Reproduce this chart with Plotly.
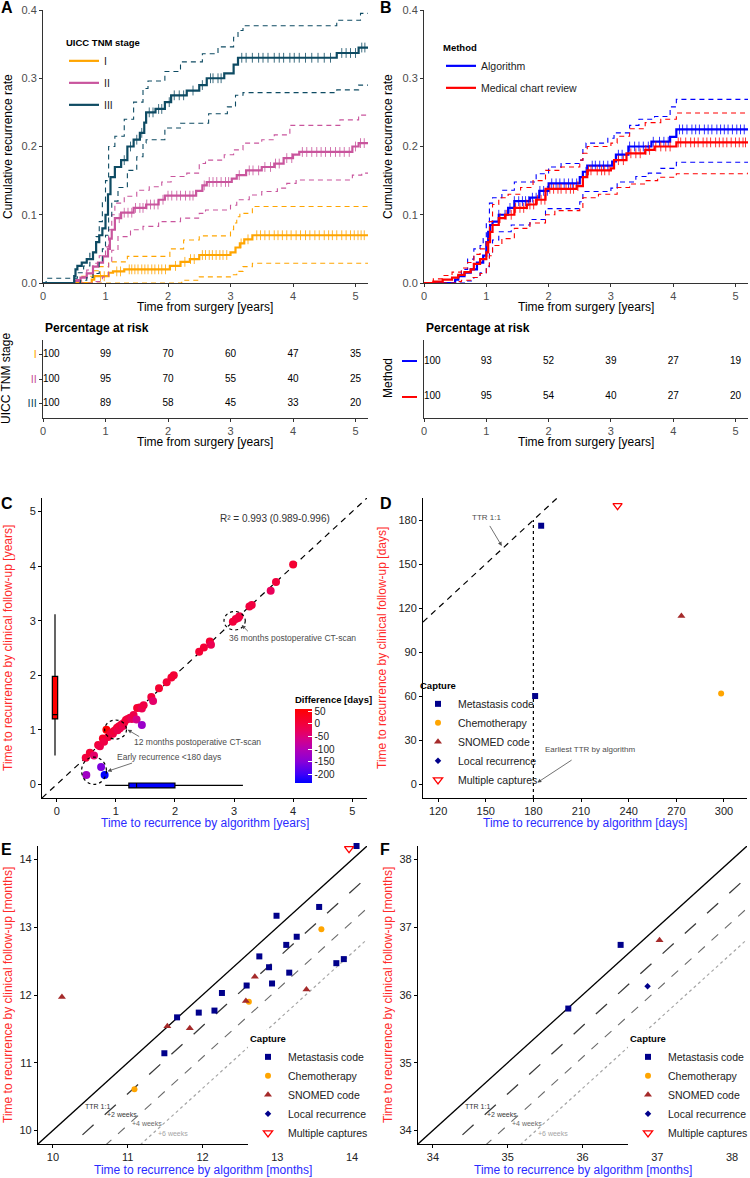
import numpy as np
import plotly.graph_objects as go

W, H = 750, 1178
FONT = "Liberation Sans, Arial, Helvetica, sans-serif"

# ======================= DATA =======================
# ---- Panel A: cumulative recurrence by UICC TNM stage (years -> rate) ----
stage_labels = ["I", "II", "III"]
tI = [0, 0.78, 0.82, 1.05, 1.12, 1.3, 2.03, 2.2, 2.35, 2.5, 3.0, 3.08, 3.15, 3.22, 3.35, 5.2]
rI = [0, 0.005, 0.01, 0.015, 0.017, 0.02, 0.025, 0.031, 0.035, 0.041, 0.045, 0.052, 0.058, 0.064, 0.07, 0.07]
tI_up = [0, 0.5, 0.62, 0.8, 0.9, 1.05, 1.35, 2.03, 2.25, 2.5, 3.0, 3.05, 3.1, 3.15, 3.35, 5.2]
rI_up = [0, 0.003, 0.01, 0.018, 0.024, 0.031, 0.039, 0.05, 0.063, 0.069, 0.078, 0.088, 0.097, 0.102, 0.112, 0.112]
tI_lo = [0, 2.22, 2.5, 3.0, 3.1, 3.2, 3.35, 5.2]
rI_lo = [0, 0.004, 0.009, 0.012, 0.017, 0.024, 0.029, 0.029]

tII = [0, 0.5, 0.6, 0.7, 0.8, 0.88, 0.96, 1.04, 1.07, 1.1, 1.15, 1.25, 1.45, 1.65, 1.85, 1.95, 2.45, 2.55,
       2.62, 3.02, 3.1, 3.25, 3.5, 3.7, 3.85, 4.0, 4.1, 4.95, 5.05, 5.2]
rII = [0, 0.003, 0.008, 0.014, 0.024, 0.03, 0.039, 0.05, 0.065, 0.078, 0.095, 0.103, 0.11, 0.115, 0.122,
       0.128, 0.135, 0.143, 0.148, 0.153, 0.158, 0.165, 0.17, 0.175, 0.183, 0.188, 0.192, 0.2, 0.205, 0.205]
tII_up = [0, 0.5, 0.6, 0.7, 0.8, 0.9, 1.0, 1.05, 1.1, 1.15, 1.3, 1.5, 1.7, 1.9, 2.05, 2.3, 2.5, 2.6, 2.9,
          3.05, 3.2, 3.5, 3.7, 3.95, 4.75, 5.05, 5.2]
rII_up = [0, 0.005, 0.009, 0.019, 0.029, 0.04, 0.053, 0.078, 0.1, 0.117, 0.127, 0.136, 0.141, 0.148, 0.156,
          0.161, 0.175, 0.18, 0.188, 0.195, 0.205, 0.21, 0.217, 0.231, 0.239, 0.246, 0.246]
tII_lo = [0, 0.85, 0.95, 1.05, 1.1, 1.2, 1.4, 1.6, 1.85, 2.2, 2.5, 2.6, 3.0, 3.1, 3.3, 3.5, 3.75, 3.9, 4.05,
          4.95, 5.1, 5.2]
rII_lo = [0, 0.002, 0.009, 0.029, 0.048, 0.068, 0.078, 0.083, 0.09, 0.095, 0.102, 0.107, 0.114, 0.122, 0.129,
          0.134, 0.139, 0.146, 0.151, 0.158, 0.161, 0.161]

tIII = [0, 0.5, 0.52, 0.55, 0.62, 0.7, 0.8, 0.85, 0.9, 0.95, 1.0, 1.04, 1.08, 1.15, 1.25, 1.35, 1.45, 1.55,
        1.62, 1.65, 1.8, 1.95, 2.05, 2.3, 2.5, 2.62, 2.9, 3.05, 3.12, 4.7, 5.05, 5.2]
rIII = [0, 0.01, 0.02, 0.025, 0.03, 0.035, 0.045, 0.06, 0.07, 0.08, 0.1, 0.13, 0.155, 0.17, 0.18, 0.2, 0.21,
        0.22, 0.235, 0.25, 0.255, 0.265, 0.275, 0.282, 0.29, 0.3, 0.307, 0.32, 0.33, 0.337, 0.345, 0.345]
tIII_up = [0, 0.05, 0.5, 0.55, 0.65, 0.75, 0.85, 0.9, 0.95, 1.0, 1.05, 1.15, 1.3, 1.45, 1.6, 1.68, 1.95, 2.2,
           2.55, 2.8, 3.05, 3.12, 3.2, 4.7, 5.08, 5.2]
rIII_up = [0, 0.007, 0.007, 0.015, 0.025, 0.045, 0.068, 0.09, 0.12, 0.15, 0.2, 0.215, 0.24, 0.265, 0.285,
           0.296, 0.31, 0.324, 0.336, 0.346, 0.36, 0.37, 0.377, 0.385, 0.395, 0.395]
tIII_lo = [0, 0.6, 0.7, 0.8, 0.9, 0.95, 1.0, 1.05, 1.1, 1.2, 1.35, 1.5, 1.6, 1.65, 1.95, 2.2, 2.65, 2.95,
           3.08, 3.2, 4.7, 5.05, 5.2]
rIII_lo = [0, 0.004, 0.008, 0.014, 0.03, 0.05, 0.07, 0.095, 0.12, 0.14, 0.165, 0.185, 0.205, 0.21, 0.227,
           0.234, 0.248, 0.258, 0.275, 0.279, 0.283, 0.29, 0.29]

cens_I = [0.92, 0.98, 1.18, 1.24, 1.38, 1.42, 1.47, 1.52, 1.58, 1.63, 1.68, 1.74, 1.79, 1.85, 1.9, 1.96,
          2.12, 2.27, 2.36, 2.42, 2.55, 2.6, 2.66, 2.71, 2.77, 2.83, 2.88, 2.94, 3.17, 3.28, 3.42, 3.48,
          3.55, 3.62, 3.7, 3.76, 3.83, 3.9, 3.97, 4.05, 4.12, 4.2, 4.27, 4.35, 4.42, 4.5, 4.57, 4.63, 4.7,
          4.78, 4.85, 4.92, 4.98, 5.04, 5.09, 5.14]
cens_II = [1.22, 1.3, 1.36, 1.42, 1.48, 1.55, 1.6, 1.66, 1.72, 1.78, 1.84, 1.92, 2.0, 2.06, 2.14, 2.2, 2.28,
           2.35, 2.4, 2.58, 2.66, 2.72, 2.78, 2.85, 2.92, 2.97, 3.14, 3.3, 3.36, 3.45, 3.55, 3.64, 3.72,
           3.78, 3.9, 3.98, 4.15, 4.22, 4.3, 4.38, 4.45, 4.52, 4.6, 4.68, 4.75, 4.82, 4.9, 5.0, 5.08, 5.14]
cens_III = [1.3, 1.4, 1.5, 1.58, 1.7, 1.76, 1.85, 1.9, 2.02, 2.1, 2.18, 2.25, 2.4, 2.55, 2.68, 2.72, 2.8,
            2.85, 3.18, 3.25, 3.35, 3.45, 3.52, 3.6, 3.7, 3.78, 3.85, 3.95, 4.02, 4.1, 4.2, 4.3, 4.4, 4.5,
            4.6, 4.78, 4.85, 4.92, 5.0, 5.1, 5.15]

# ---- Panel B: algorithm vs medical chart review ----
method_labels = ["Algorithm", "Medical chart review"]
t_alg = [0, 0.5, 0.55, 0.65, 0.75, 0.85, 0.95, 1.0, 1.03, 1.06, 1.1, 1.2, 1.35, 1.45, 1.7, 1.85, 2.0, 2.5,
         2.55, 2.62, 3.02, 3.08, 3.28, 3.65, 3.95, 4.05, 5.2]
r_alg = [0, 0.005, 0.01, 0.015, 0.02, 0.03, 0.04, 0.06, 0.075, 0.085, 0.09, 0.1, 0.11, 0.12, 0.125, 0.135,
         0.146, 0.155, 0.163, 0.172, 0.178, 0.188, 0.2, 0.207, 0.214, 0.225, 0.225]
t_alg_up = [0, 0.5, 0.6, 0.7, 0.8, 0.9, 0.95, 1.0, 1.05, 1.1, 1.25, 1.45, 1.8, 2.0, 2.2, 2.5, 2.55, 2.6,
            2.95, 3.05, 3.3, 3.45, 3.7, 3.95, 4.05, 5.2]
r_alg_up = [0, 0.008, 0.02, 0.035, 0.05, 0.055, 0.065, 0.09, 0.117, 0.125, 0.136, 0.148, 0.16, 0.17, 0.175,
            0.18, 0.197, 0.205, 0.212, 0.22, 0.231, 0.24, 0.244, 0.258, 0.269, 0.269]
t_alg_lo = [0, 0.7, 0.8, 0.9, 1.0, 1.05, 1.1, 1.2, 1.4, 1.7, 1.95, 2.5, 2.55, 3.0, 3.1, 3.4, 3.6, 3.8, 4.05, 5.2]
r_alg_lo = [0, 0.003, 0.008, 0.015, 0.024, 0.043, 0.063, 0.075, 0.085, 0.093, 0.109, 0.119, 0.134, 0.139,
            0.148, 0.156, 0.161, 0.168, 0.177, 0.177]
t_chart = [0, 0.15, 0.3, 0.45, 0.55, 0.65, 0.75, 0.8, 0.9, 1.0, 1.03, 1.06, 1.1, 1.2, 1.3, 1.45, 1.65, 1.8,
           1.95, 2.45, 2.55, 2.62, 3.0, 3.05, 3.25, 3.55, 3.7, 4.05, 5.2]
r_chart = [0, 0.002, 0.005, 0.008, 0.012, 0.016, 0.02, 0.028, 0.035, 0.045, 0.06, 0.075, 0.085, 0.095, 0.1,
           0.11, 0.115, 0.122, 0.138, 0.142, 0.155, 0.165, 0.168, 0.18, 0.19, 0.195, 0.2, 0.206, 0.206]
t_chart_up = [0, 0.15, 0.3, 0.45, 0.6, 0.7, 0.8, 0.9, 1.0, 1.05, 1.1, 1.2, 1.35, 1.55, 1.75, 1.95, 2.2, 2.5,
              2.55, 2.62, 3.0, 3.1, 3.3, 3.55, 3.8, 4.05, 5.2]
r_chart_up = [0, 0.006, 0.011, 0.016, 0.022, 0.03, 0.042, 0.05, 0.065, 0.09, 0.115, 0.125, 0.13, 0.14, 0.15,
              0.165, 0.17, 0.18, 0.19, 0.2, 0.205, 0.215, 0.226, 0.235, 0.24, 0.249, 0.249]
t_chart_lo = [0, 0.5, 0.6, 0.75, 0.9, 1.0, 1.05, 1.1, 1.25, 1.45, 1.7, 1.95, 2.1, 2.5, 2.55, 2.8, 3.1, 3.3,
              3.55, 3.75, 4.05, 5.2]
r_chart_lo = [0, 0.002, 0.004, 0.008, 0.014, 0.025, 0.04, 0.055, 0.065, 0.08, 0.088, 0.1, 0.106, 0.11, 0.125,
              0.13, 0.14, 0.145, 0.15, 0.155, 0.16, 0.162]
cens_alg = [1.2, 1.3, 1.38, 1.45, 1.52, 1.58, 1.63, 1.68, 1.74, 1.8, 1.86, 1.92, 1.98, 2.05, 2.12, 2.18, 2.25,
            2.32, 2.38, 2.45, 2.6, 2.7, 2.75, 2.82, 2.88, 2.95, 3.12, 3.18, 3.3, 3.38, 3.45, 3.52, 3.6, 3.68,
            3.78, 3.85, 3.92, 4.1, 4.15, 4.22, 4.3, 4.36, 4.42, 4.5, 4.56, 4.62, 4.7, 4.76, 4.82, 4.88, 4.95,
            5.02, 5.08, 5.14]
cens_chart = [1.22, 1.32, 1.4, 1.47, 1.54, 1.6, 1.65, 1.7, 1.76, 1.82, 1.88, 1.94, 2.02, 2.08, 2.15, 2.2,
              2.28, 2.35, 2.4, 2.47, 2.64, 2.68, 2.78, 2.85, 2.9, 2.97, 3.12, 3.2, 3.32, 3.4, 3.47, 3.56, 3.62,
              3.72, 3.8, 3.88, 3.95, 4.08, 4.12, 4.2, 4.28, 4.34, 4.4, 4.48, 4.54, 4.6, 4.68, 4.74, 4.8, 4.86,
              4.93, 5.0, 5.06, 5.12, 5.16]

# ---- Risk tables (percentage at risk) ----
risk_years = [0, 1, 2, 3, 4, 5]
risk_I = [100, 99, 70, 60, 47, 35]
risk_II = [100, 95, 70, 55, 40, 25]
risk_III = [100, 89, 58, 45, 33, 20]
risk_alg = [100, 93, 52, 39, 27, 19]
risk_chart = [100, 95, 54, 40, 27, 20]

# ---- Panel C: time to recurrence, algorithm vs clinical follow-up (years) ----
c_alg = [0.50, 0.75, 0.81, 0.49, 0.56, 0.63, 0.70, 0.73, 0.78, 0.80, 0.84, 0.87, 0.90, 0.93, 0.95, 0.97, 1.00,
         1.02, 1.03, 1.05, 1.07, 1.08, 1.10, 1.12, 1.14, 1.17, 1.20, 1.24, 1.27, 1.30, 1.35, 1.44, 1.36, 1.40,
         1.44, 1.47, 1.60, 1.63, 1.73, 1.86, 1.94, 1.98, 2.41, 2.49, 2.59, 2.61, 2.98, 3.03, 3.07, 3.09, 3.26,
         3.30, 3.62, 3.71, 4.00]
c_clin = [0.17, 0.32, 0.17, 0.49, 0.58, 0.53, 0.72, 0.70, 0.84, 0.78, 1.00, 0.87, 0.92, 0.95, 0.93, 0.98, 1.00,
          1.04, 0.99, 1.06, 1.03, 1.08, 1.10, 1.07, 1.13, 1.18, 1.20, 1.22, 1.20, 1.27, 1.19, 1.09, 1.40, 1.41,
          1.39, 1.45, 1.60, 1.53, 1.76, 1.87, 1.96, 2.00, 2.43, 2.51, 2.62, 2.56, 2.98, 3.03, 3.05, 3.08, 3.26,
          3.29, 3.55, 3.71, 4.03]
# box stats: lower whisker, q1, median, q3, upper whisker
clin_box = [0.53, 1.20, 1.28, 1.98, 3.12]
alg_box = [0.82, 1.22, 1.35, 2.00, 3.15]
r2_label = "R² = 0.993 (0.989-0.996)"
diff_ticks = [50, 0, -50, -100, -150, -200]

# ---- Capture categories ----
capture_names = ["Metastasis code", "Chemotherapy", "SNOMED code", "Local recurrence", "Multiple captures"]
# Panel D (days)
d_meta_x, d_meta_y = [184.9, 181.1], [176.1, 60.0]
d_chemo_x, d_chemo_y = [298.2], [61.8]
d_snomed_x, d_snomed_y = [273.2], [114.5]
d_local_x, d_local_y = [], []
d_multi_x, d_multi_y = [233.0], [189.8]
earliest_ttr_days = 180
# Panel E (months)
e_meta_x = [13.56, 12.99, 13.26, 13.12, 12.76, 12.89, 13.16, 12.93, 12.59, 12.26, 12.16, 11.95, 11.66, 11.49,
            13.79, 13.89, 14.06]
e_meta_y = [13.30, 13.17, 12.86, 12.74, 12.57, 12.41, 12.33, 12.17, 12.14, 12.03, 11.77, 11.74, 11.67, 11.14,
            12.47, 12.53, 14.20]
e_chemo_x, e_chemo_y = [13.59, 12.62, 11.09], [12.97, 11.90, 10.61]
e_snomed_x = [10.12, 11.53, 11.83, 12.58, 12.70, 13.39]
e_snomed_y = [11.97, 11.54, 11.51, 11.91, 12.27, 12.08]
e_local_x, e_local_y = [], []
e_multi_x, e_multi_y = [13.96], [14.16]
# Panel F (months)
f_meta_x, f_meta_y = [36.51, 35.81], [36.74, 35.80]
f_chemo_x, f_chemo_y = [], []
f_snomed_x, f_snomed_y = [37.03], [36.81]
f_local_x, f_local_y = [36.87], [36.13]
f_multi_x, f_multi_y = [], []
offset_weeks = [0, 2, 4, 6]
offset_labels = ["TTR 1:1", "+2 weeks", "+4 weeks", "+6 weeks"]

# ======================= STYLE =======================
col_stage = ["#FFA500", "#C9559D", "#0E4B63"]
col_method = ["#0000FF", "#FF0000"]
cap_style = [
    dict(symbol="square", size=6, color="#00008B"),
    dict(symbol="circle", size=6, color="#FFA500"),
    dict(symbol="triangle-up", size=7, color="#A52A2A"),
    dict(symbol="diamond", size=5, color="#00008B"),
    dict(symbol="triangle-down-open", size=8, color="#FF0000"),
]
off_style = [("#000000", "solid", 1.3), ("#3A3A3A", "longdash", 1.3),
             ("#6A6A6A", "dash", 1.1), ("#A5A5A5", "dot", 1.2)]


def dx(a, b):
    return [a / W, b / W]


def dy(top, bottom):
    return [1 - bottom / H, 1 - top / H]


def px(x):
    return x / W


def py(y):
    return 1 - y / H


def step_at(ts, rs, q):
    idx = np.searchsorted(np.asarray(ts), np.asarray(q), side="right") - 1
    return np.asarray(rs)[idx]


fig = go.Figure()


def km_group(ts, rs, tu, ru, tl, rl, cens, color, name, xa, ya, legend):
    for tt, rr in ((tu, ru), (tl, rl)):
        fig.add_trace(go.Scatter(x=tt, y=rr, mode="lines", line=dict(color=color, width=1.1, dash="5px,4px",
                                 shape="hv"), showlegend=False, xaxis=xa, yaxis=ya, hoverinfo="skip"))
    fig.add_trace(go.Scatter(x=ts, y=rs, mode="lines", line=dict(color=color, width=2.2, shape="hv"),
                             name=name, legend=legend, legendgroup=name, xaxis=xa, yaxis=ya))
    fig.add_trace(go.Scatter(x=cens, y=step_at(ts, rs, cens), mode="markers",
                             marker=dict(symbol="line-ns-open", size=7, color=color,
                                         line=dict(color=color, width=1)),
                             opacity=0.8, showlegend=False, xaxis=xa, yaxis=ya, hoverinfo="skip"))


km_group(tI, rI, tI_up, rI_up, tI_lo, rI_lo, cens_I, col_stage[0], stage_labels[0], "x", "y", "legend")
km_group(tII, rII, tII_up, rII_up, tII_lo, rII_lo, cens_II, col_stage[1], stage_labels[1], "x", "y", "legend")
km_group(tIII, rIII, tIII_up, rIII_up, tIII_lo, rIII_lo, cens_III, col_stage[2], stage_labels[2], "x", "y", "legend")
km_group(t_alg, r_alg, t_alg_up, r_alg_up, t_alg_lo, r_alg_lo, cens_alg, col_method[0], method_labels[0],
         "x2", "y2", "legend2")
km_group(t_chart, r_chart, t_chart_up, r_chart_up, t_chart_lo, r_chart_lo, cens_chart, col_method[1],
         method_labels[1], "x2", "y2", "legend2")

# risk tables
for i, vals in enumerate([risk_I, risk_II, risk_III]):
    fig.add_trace(go.Scatter(x=risk_years, y=[3 - i] * len(vals), mode="text", text=[str(v) for v in vals],
                             textposition=["middle right"] + ["middle center"] * 5,
                             textfont=dict(size=10, color="black", family=FONT), showlegend=False,
                             xaxis="x3", yaxis="y3", hoverinfo="skip"))
for i, vals in enumerate([risk_alg, risk_chart]):
    fig.add_trace(go.Scatter(x=risk_years, y=[2 - i] * len(vals), mode="text", text=[str(v) for v in vals],
                             textposition=["middle right"] + ["middle center"] * 5,
                             textfont=dict(size=10, color="black", family=FONT), showlegend=False,
                             xaxis="x4", yaxis="y4", hoverinfo="skip"))

# ---- Panel C ----
c_lo, c_hi = -0.25, 5.25
fig.add_trace(go.Scatter(x=[c_lo, c_hi], y=[c_lo, c_hi], mode="lines",
                         line=dict(color="black", width=1.2, dash="6px,5px"), showlegend=False,
                         xaxis="x5", yaxis="y5", hoverinfo="skip"))
diff_days = (np.array(c_clin) - np.array(c_alg)) * 365.25
cscale = [[0, "#0000FF"], [0.12, "#4000F8"], [0.29, "#8800D8"], [0.46, "#B400B4"], [0.6, "#D60086"],
          [0.7, "#E8005E"], [0.8, "#F2003C"], [1, "#FF0000"]]
fig.add_trace(go.Box(x=[-0.03], q1=[clin_box[1]], median=[clin_box[2]], q3=[clin_box[3]],
                     lowerfence=[clin_box[0]], upperfence=[clin_box[4]], width=0.09, whiskerwidth=0,
                     fillcolor="#FF0000", line=dict(color="black", width=1.2), showlegend=False,
                     xaxis="x5", yaxis="y5", hoverinfo="skip"))
fig.add_trace(go.Box(y=[-0.02], q1=[alg_box[1]], median=[alg_box[2]], q3=[alg_box[3]],
                     lowerfence=[alg_box[0]], upperfence=[alg_box[4]], width=0.09, whiskerwidth=0,
                     orientation="h", fillcolor="#0000FF", line=dict(color="black", width=1.2),
                     showlegend=False, xaxis="x5", yaxis="y5", hoverinfo="skip"))
fig.add_trace(go.Scatter(x=c_alg, y=c_clin, mode="markers",
                         marker=dict(size=8, color=diff_days, colorscale=cscale, cmin=diff_days.min(),
                                     cmax=diff_days.max(), showscale=True,
                                     colorbar=dict(x=px(295), xanchor="left", y=py(783), yanchor="bottom",
                                                   len=90, lenmode="pixels", thickness=17, xpad=0, ypad=0,
                                                   outlinewidth=0, tickvals=diff_ticks,
                                                   ticktext=[str(v) for v in diff_ticks],
                                                   ticks="inside", ticklen=4, tickcolor="white",
                                                   tickfont=dict(size=10, color="#222", family=FONT),
                                                   title=dict(text="<b>Difference [days]</b>", side="top",
                                                              font=dict(size=9.5, color="black", family=FONT)))),
                         showlegend=False, xaxis="x5", yaxis="y5"))


def capture_traces(groups, xa, ya, legend):
    for (xs, ys), nm, st in zip(groups, capture_names, cap_style):
        mk = dict(symbol=st["symbol"], size=st["size"], color=st["color"])
        if "open" in st["symbol"]:
            mk["line"] = dict(color=st["color"], width=1.3)
        fig.add_trace(go.Scatter(x=xs if xs else [None], y=ys if ys else [None], mode="markers", marker=mk,
                                 name=nm, legend=legend, xaxis=xa, yaxis=ya, cliponaxis=False))


# ---- Panel D ----
d_xr, d_yr = [110.5, 314.5], [-9.5, 195]
fig.add_trace(go.Scatter(x=[d_xr[0], d_yr[1]], y=[d_xr[0], d_yr[1]], mode="lines",
                         line=dict(color="black", width=1.2, dash="6px,5px"), showlegend=False,
                         xaxis="x6", yaxis="y6", hoverinfo="skip"))
fig.add_trace(go.Scatter(x=[earliest_ttr_days, earliest_ttr_days], y=[d_yr[0], earliest_ttr_days], mode="lines",
                         line=dict(color="black", width=1.2, dash="dot"), showlegend=False,
                         xaxis="x6", yaxis="y6", hoverinfo="skip"))
capture_traces([(d_meta_x, d_meta_y), (d_chemo_x, d_chemo_y), (d_snomed_x, d_snomed_y),
                (d_local_x, d_local_y), (d_multi_x, d_multi_y)], "x6", "y6", "legend3")


# ---- Panels E, F ----
def offset_lines(rng, xa, ya):
    for wk, (col, dash, wid) in zip(offset_weeks, off_style):
        off = wk * 7 / 30.4375
        fig.add_trace(go.Scatter(x=[rng[0], rng[1]], y=[rng[0] - off, rng[1] - off], mode="lines",
                                 line=dict(color=col, width=wid, dash=dash), showlegend=False,
                                 xaxis=xa, yaxis=ya, hoverinfo="skip"))


e_rng, f_rng = [9.8, 14.2], [33.8, 38.2]
offset_lines(e_rng, "x7", "y7")
offset_lines(f_rng, "x8", "y8")
capture_traces([(e_meta_x, e_meta_y), (e_chemo_x, e_chemo_y), (e_snomed_x, e_snomed_y),
                (e_local_x, e_local_y), (e_multi_x, e_multi_y)], "x7", "y7", "legend4")
capture_traces([(f_meta_x, f_meta_y), (f_chemo_x, f_chemo_y), (f_snomed_x, f_snomed_y),
                (f_local_x, f_local_y), (f_multi_x, f_multi_y)], "x8", "y8", "legend5")


# ======================= LAYOUT =======================
def axis(domain, rng, tickvals, anchor, tickcolor="#4D4D4D", linecolor="#333333", **kw):
    d = dict(domain=domain, range=rng, tickvals=tickvals, anchor=anchor, showline=True, linecolor=linecolor,
             linewidth=1.1, ticks="outside", ticklen=3, tickwidth=1, tickcolor=linecolor, showgrid=False,
             zeroline=False, tickfont=dict(size=11, color=tickcolor, family=FONT), fixedrange=True,
             automargin=False)
    d.update(kw)
    return d


yr_ticks = [0, 1, 2, 3, 4, 5]
lay = dict(
    xaxis=axis(dx(43, 368), [0, 5.2], yr_ticks, "y"),
    yaxis=axis(dy(10, 283), [0, 0.4], [0, 0.1, 0.2, 0.3, 0.4], "x", tickformat=".1f"),
    xaxis2=axis(dx(424, 748), [0, 5.2], yr_ticks, "y2"),
    yaxis2=axis(dy(10, 283), [0, 0.4], [0, 0.1, 0.2, 0.3, 0.4], "x2", tickformat=".1f"),
    xaxis3=axis(dx(43, 368), [0, 5.2], yr_ticks, "y3"),
    yaxis3=axis(dy(340, 418), [0.41, 3.59], [3, 2, 1], "x3",
                ticktext=['<span style="color:%s">%s</span>' % (c, s) for c, s in zip(col_stage, stage_labels)]),
    xaxis4=axis(dx(424, 748), [0, 5.2], yr_ticks, "y4"),
    yaxis4=axis(dy(340, 418), [0.415, 2.585], [2, 1], "x4", ticktext=["", ""], ticks=""),
    xaxis5=axis(dx(42, 367), [c_lo, c_hi], yr_ticks, "y5", tickcolor="#222", linecolor="black"),
    yaxis5=axis(dy(498, 798), [c_lo, c_hi], yr_ticks, "x5", tickcolor="#222", linecolor="black"),
    xaxis6=axis(dx(423, 747), d_xr, list(range(120, 301, 30)), "y6", tickcolor="#222", linecolor="black"),
    yaxis6=axis(dy(498, 798), d_yr, list(range(0, 181, 30)), "x6", tickcolor="#222", linecolor="black"),
    xaxis7=axis(dx(38, 367), e_rng, [10, 11, 12, 13, 14], "y7", tickcolor="#222", linecolor="black"),
    yaxis7=axis(dy(846, 1144), e_rng, [10, 11, 12, 13, 14], "x7", tickcolor="#222", linecolor="black"),
    xaxis8=axis(dx(418, 747), f_rng, [34, 35, 36, 37, 38], "y8", tickcolor="#222", linecolor="black"),
    yaxis8=axis(dy(846, 1144), f_rng, [34, 35, 36, 37, 38], "x8", tickcolor="#222", linecolor="black"),
)


def leg(x, y, title, bg="rgba(0,0,0,0)", gap=0):
    return dict(x=px(x), y=py(y), xanchor="left", yanchor="top", bgcolor=bg, borderwidth=0,
                itemwidth=30, tracegroupgap=gap,
                title=dict(text="<b>%s</b>" % title, font=dict(size=9.5, color="black", family=FONT)),
                font=dict(size=10.5, color="#222", family=FONT))


lay["legend"] = leg(64, 34, "UICC TNM stage", gap=3)
lay["legend2"] = leg(441, 39, "Method", gap=3)
lay["legend3"] = leg(418, 677, "Capture")
lay["legend4"] = leg(248, 1030, "Capture", bg="white")
lay["legend5"] = leg(628, 1030, "Capture", bg="white")

anns = []


def pann(text, x, y, size=12, color="black", angle=0, xanchor="center", yanchor="middle", bold=False):
    anns.append(dict(text=("<b>%s</b>" % text) if bold else text, x=px(x), y=py(y), xref="paper", yref="paper",
                     showarrow=False, textangle=angle, xanchor=xanchor, yanchor=yanchor,
                     font=dict(size=size, color=color, family=FONT)))


# panel letters
for lab, x, y in [("A", 7, 8), ("B", 386, 8), ("C", 7, 503), ("D", 386, 503), ("E", 6, 849), ("F", 385, 849)]:
    pann(lab, x, y, size=16, bold=True)
# axis titles
pann("Cumulative recurrence rate", 8, 147, size=12, angle=-90)
pann("Cumulative recurrence rate", 388, 147, size=12, angle=-90)
pann("Time from surgery [years]", 205, 307, size=12)
pann("Time from surgery [years]", 586, 307, size=12)
pann("Time from surgery [years]", 205, 442, size=12)
pann("Time from surgery [years]", 586, 442, size=12)
pann("Percentage at risk", 43, 328, size=12, xanchor="left", bold=True)
pann("Percentage at risk", 424, 328, size=12, xanchor="left", bold=True)
pann("UICC TNM stage", 6, 379, size=12, angle=-90)
pann("Method", 388, 378, size=12, angle=-90)
pann("Time to recurrence by algorithm [years]", 205, 823, size=12, color="#2B2BFF")
pann("Time to recurrence by clinical follow-up [years]", 8, 648, size=12, color="#FF2B2B", angle=-90)
pann("Time to recurrence by algorithm [days]", 585, 823, size=12, color="#2B2BFF")
pann("Time to recurrence by clinical follow-up [days]", 382, 648, size=12, color="#FF2B2B", angle=-90)
pann("Time to recurrence by algorithm [months]", 203, 1170, size=12, color="#2B2BFF")
pann("Time to recurrence by clinical follow-up [months]", 8, 995, size=12, color="#FF2B2B", angle=-90)
pann("Time to recurrence by algorithm [months]", 583, 1170, size=12, color="#2B2BFF")
pann("Time to recurrence by clinical follow-up [months]", 388, 995, size=12, color="#FF2B2B", angle=-90)


def dann(text, x, y, xa, ya, size=8.5, color="#4D4D4D", xanchor="center"):
    anns.append(dict(text=text, x=x, y=y, xref=xa, yref=ya, showarrow=False, xanchor=xanchor,
                     font=dict(size=size, color=color, family=FONT)))


def arrow(x, y, ax, ay, xa, ya):
    anns.append(dict(text="", x=x, y=y, ax=ax, ay=ay, xref=xa, yref=ya, axref=xa, ayref=ya, showarrow=True,
                     arrowhead=2, arrowsize=1, arrowwidth=0.8, arrowcolor="#4D4D4D"))


dann(r2_label, 3.7, 4.87, "x5", "y5", size=10, color="#333")
dann("36 months postoperative CT-scan", 2.88, 2.68, "x5", "y5", xanchor="left")
dann("12 months postoperative CT-scan", 1.27, 0.78, "x5", "y5", xanchor="left")
dann("Early recurrence <180 days", 0.98, 0.5, "x5", "y5", xanchor="left")
arrow(3.13, 2.92, 3.26, 2.78, "x5", "y5")
arrow(1.2, 1.0, 1.42, 0.86, "x5", "y5")
arrow(0.86, 0.24, 1.3, 0.4, "x5", "y5")
dann("TTR 1:1", 150.3, 182, "x6", "y6", size=8)
arrow(160.1, 162.3, 152, 177, "x6", "y6")
dann("Earliest TTR by algorithm", 215.6, 23.9, "x6", "y6", size=8)
arrow(182.5, 1, 205, 17, "x6", "y6")

lab_dx = [0.8, 1.13, 1.46, 1.8]
lab_dy = [0.56, 0.43, 0.3, 0.16]
for rng, xa, ya in [(e_rng, "x7", "y7"), (f_rng, "x8", "y8")]:
    for lab, ddx, ddy, st in zip(offset_labels, lab_dx, lab_dy, off_style):
        dann(lab, rng[0] + ddx, rng[0] + ddy, xa, ya, size=7, color=st[0] if st[0] != "#000000" else "#333")

shapes = []
for (x0, y0, x1, y1) in [(2.83, 2.83, 3.19, 3.17), (0.81, 0.83, 1.18, 1.18), (0.42, 0.0, 0.84, 0.5)]:
    shapes.append(dict(type="circle", xref="x5", yref="y5", x0=x0, y0=y0, x1=x1, y1=y1,
                       line=dict(color="black", width=1.2, dash="dot")))
for i, c in enumerate(col_method):
    shapes.append(dict(type="line", xref="paper", yref="y4", x0=px(402), x1=px(417), y0=2 - i, y1=2 - i,
                       line=dict(color=c, width=2)))

fig.update_layout(**lay)
fig.update_layout(width=W, height=H, margin=dict(l=0, r=0, t=0, b=0, autoexpand=False),
                  paper_bgcolor="white", plot_bgcolor="white", showlegend=True, boxmode="overlay",
                  annotations=anns, shapes=shapes, font=dict(family=FONT))

fig.write_html("out.html", config=dict(displayModeBar=False),
               post_script="document.body.style.margin='0';document.body.style.overflow='hidden';")
